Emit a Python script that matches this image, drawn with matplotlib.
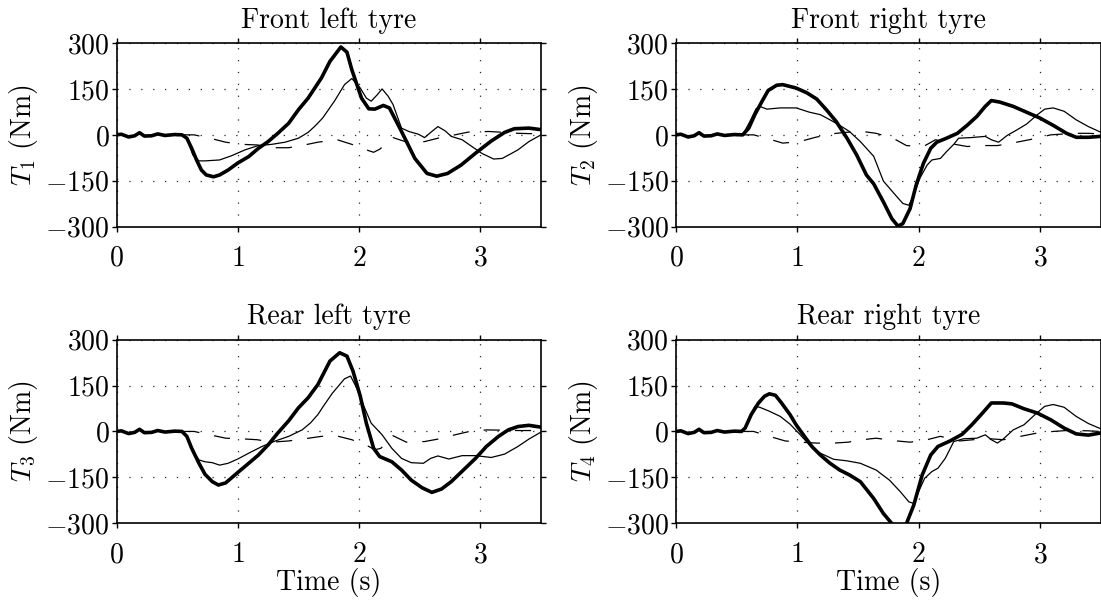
import matplotlib
matplotlib.use("Agg")
import matplotlib.pyplot as plt
import numpy as np

plt.rcParams['font.family'] = 'serif'
plt.rcParams['font.serif'] = ['cmr10']
plt.rcParams['mathtext.fontset'] = 'cm'
plt.rcParams['axes.formatter.use_mathtext'] = True
plt.rcParams['font.size'] = 20

# common start-up ripple (thick and thin lines share it)
wig_t = [0, 0.04, 0.10, 0.15, 0.19, 0.23, 0.29, 0.34, 0.40, 0.48, 0.54]
wig_v = [0, 2, -7, -3, 7, -4, -3, 3, -2, 1, 0]

# ---- front left
t1_thick = [0.58, 0.62, 0.66, 0.70, 0.74, 0.80, 0.85, 0.92, 1.00, 1.09, 1.17, 1.25, 1.33, 1.42, 1.50, 1.58,
            1.69, 1.76, 1.85, 1.90, 1.94, 2.02, 2.08, 2.13, 2.20, 2.25, 2.35, 2.46, 2.56, 2.64, 2.73, 2.84,
            2.96, 3.09, 3.20, 3.28, 3.40, 3.50]
T1_thick = [-11, -44, -82, -115, -131, -137, -131, -115, -92, -71, -44, -22, 5, 38, 82, 120,
            186, 240, 287, 270, 213, 120, 85, 84, 96, 88, 11, -77, -126, -135, -126, -99,
            -60, -20, 8, 20, 22, 17]
t1_thin = [0.58, 0.63, 0.68, 0.73, 0.85, 0.95, 1.06, 1.17, 1.28, 1.39, 1.50, 1.58, 1.64, 1.70, 1.80, 1.88,
           1.94, 2.01, 2.06, 2.10, 2.15, 2.19, 2.24, 2.28, 2.35, 2.41, 2.49, 2.54, 2.60, 2.65, 2.71, 2.76,
           2.85, 2.93, 3.01, 3.11, 3.18, 3.26, 3.31, 3.40, 3.50]
T1_thin = [-11, -66, -85, -85, -82, -68, -49, -35, -31, -24, -11, 8, 30, 55, 112, 164,
           184, 153, 120, 110, 131, 150, 126, 99, 22, 11, 2, -9, 11, 27, 13, -5,
           -16, -38, -60, -79, -77, -60, -49, -22, 0]
t1_dash = [0.55, 0.64, 0.77, 0.90, 1.03, 1.16, 1.29, 1.42, 1.55, 1.66, 1.82, 1.94, 2.06, 2.12, 2.17, 2.28,
           2.38, 2.46, 2.54, 2.65, 2.79, 2.90, 3.07, 3.20, 3.31, 3.50]
T1_dash = [0, 0, -11, -24, -31, -33, -42, -42, -33, -24, -16, -31, -49, -57, -47, -9,
           -22, -27, -22, -11, 0, 9, 11, 8, 5, 3]

# ---- front right
t2_thick = [0.55, 0.60, 0.65, 0.71, 0.76, 0.83, 0.88, 0.99, 1.08, 1.16, 1.24, 1.32, 1.41, 1.49, 1.57, 1.63,
            1.71, 1.78, 1.83, 1.87, 1.93, 1.98, 2.04, 2.10, 2.15, 2.23, 2.32, 2.40, 2.48, 2.55, 2.60, 2.67,
            2.78, 2.89, 3.00, 3.11, 3.22, 3.30, 3.40, 3.50]
T2_thick = [0, 22, 66, 110, 145, 162, 164, 153, 137, 117, 82, 44, -11, -66, -131, -160,
            -219, -274, -298, -290, -241, -164, -93, -44, -24, -11, 5, 31, 60, 93, 112, 107,
            93, 74, 55, 31, 5, -8, -8, -5]
t2_thin = [0.55, 0.61, 0.66, 0.69, 0.75, 0.86, 0.99, 1.10, 1.19, 1.27, 1.35, 1.43, 1.52, 1.63, 1.71, 1.81,
           1.87, 1.92, 1.96, 2.01, 2.07, 2.11, 2.18, 2.23, 2.29, 2.33, 2.43, 2.55, 2.60, 2.66, 2.73, 2.81,
           2.89, 2.98, 3.04, 3.11, 3.20, 3.30, 3.40, 3.50]
T2_thin = [0, 44, 85, 93, 84, 88, 88, 74, 66, 49, 31, 11, -22, -70, -151, -197,
           -224, -230, -197, -142, -99, -82, -77, -55, -31, -11, -9, -5, -16, -24, -2, 16,
           35, 66, 84, 88, 77, 49, 27, 9]
t2_dash = [0.55, 0.64, 0.77, 0.88, 1.02, 1.15, 1.28, 1.39, 1.54, 1.65, 1.79, 1.90, 2.04, 2.14, 2.30, 2.40,
           2.54, 2.65, 2.81, 2.95, 3.09, 3.20, 3.30, 3.40, 3.50]
T2_dash = [0, 0, -14, -27, -22, -8, 3, 8, 11, 5, -11, -35, -38, -16, -31, -38,
           -35, -35, -24, -13, 0, 3, 5, 5, 3]

# ---- rear left
t3_thick = [0.58, 0.62, 0.68, 0.73, 0.79, 0.84, 0.90, 0.95, 1.00, 1.09, 1.17, 1.25, 1.33, 1.42, 1.50, 1.58,
            1.66, 1.76, 1.84, 1.90, 1.95, 2.01, 2.06, 2.12, 2.17, 2.27, 2.35, 2.43, 2.52, 2.60, 2.68, 2.76,
            2.86, 2.96, 3.05, 3.15, 3.23, 3.31, 3.40, 3.50]
T3_thick = [-16, -55, -104, -140, -164, -175, -168, -151, -134, -104, -77, -44, -5, 35, 77, 110,
            153, 230, 257, 246, 197, 115, 27, -55, -82, -99, -126, -159, -184, -199, -188, -164,
            -126, -88, -49, -16, 5, 16, 20, 14]
t3_thin = [0.58, 0.63, 0.68, 0.73, 0.79, 0.85, 0.92, 1.00, 1.09, 1.20, 1.31, 1.42, 1.53, 1.60, 1.66, 1.71,
           1.78, 1.88, 1.93, 1.98, 2.04, 2.10, 2.19, 2.27, 2.35, 2.43, 2.53, 2.59, 2.65, 2.74, 2.85, 2.96,
           3.09, 3.20, 3.31, 3.40, 3.50]
T3_thin = [-16, -66, -93, -99, -102, -110, -104, -90, -71, -49, -31, -16, 5, 28, 55, 85,
           125, 172, 181, 142, 82, 27, -11, -55, -88, -102, -104, -88, -80, -90, -79, -79,
           -85, -74, -49, -25, -2]
t3_dash = [0.55, 0.64, 0.77, 0.90, 1.03, 1.16, 1.28, 1.42, 1.55, 1.69, 1.83, 1.94, 2.08, 2.13, 2.18, 2.28,
           2.39, 2.54, 2.65, 2.79, 2.91, 3.05, 3.20, 3.31, 3.50]
T3_dash = [0, 0, -11, -22, -24, -27, -35, -31, -24, -16, -16, -27, -49, -60, -55, -14,
           -35, -33, -25, -11, 0, 5, 4, 3, 3]

# ---- rear right
t4_thick = [0.57, 0.62, 0.68, 0.73, 0.77, 0.82, 0.87, 0.94, 0.99, 1.05, 1.12, 1.19, 1.27, 1.35, 1.43, 1.52,
            1.63, 1.71, 1.78, 1.84, 1.90, 1.96, 2.03, 2.10, 2.16, 2.26, 2.36, 2.44, 2.52, 2.60, 2.70, 2.77,
            2.87, 2.98, 3.09, 3.20, 3.30, 3.40, 3.50]
T4_thick = [11, 55, 93, 115, 123, 118, 93, 55, 22, -11, -49, -77, -104, -126, -142, -164,
            -219, -268, -301, -335, -301, -241, -142, -77, -49, -31, -9, 22, 57, 93, 93, 90,
            74, 60, 38, 11, -8, -12, -5]
t4_thin = [0.57, 0.61, 0.65, 0.69, 0.77, 0.86, 0.94, 1.02, 1.10, 1.19, 1.30, 1.41, 1.52, 1.65, 1.76, 1.85,
           1.92, 1.96, 2.00, 2.05, 2.11, 2.16, 2.22, 2.29, 2.37, 2.48, 2.55, 2.60, 2.65, 2.70, 2.78, 2.87,
           2.96, 3.04, 3.11, 3.20, 3.30, 3.40, 3.50]
T4_thin = [11, 49, 82, 79, 66, 49, 24, -9, -44, -71, -91, -96, -104, -126, -159, -197,
           -230, -235, -197, -153, -131, -120, -88, -33, -24, -22, -11, -27, -38, -24, 5, 22,
           55, 82, 88, 79, 49, 26, 9]
t4_dash = [0.55, 0.64, 0.77, 0.90, 1.02, 1.16, 1.30, 1.42, 1.54, 1.65, 1.82, 1.93, 2.07, 2.18, 2.34, 2.45,
           2.59, 2.70, 2.84, 2.98, 3.11, 3.22, 3.30, 3.40, 3.50]
T4_dash = [0, 0, -16, -31, -35, -38, -38, -35, -27, -22, -31, -35, -27, -16, -31, -27,
           -24, -27, -16, -5, 0, 3, 3, 2, 0]

titles = ['Front left tyre', 'Front right tyre', 'Rear left tyre', 'Rear right tyre']
ylabels = [r'$T_1$ (Nm)', r'$T_2$ (Nm)', r'$T_3$ (Nm)', r'$T_4$ (Nm)']
series = [
    (t1_thick, T1_thick, t1_thin, T1_thin, t1_dash, T1_dash),
    (t2_thick, T2_thick, t2_thin, T2_thin, t2_dash, T2_dash),
    (t3_thick, T3_thick, t3_thin, T3_thin, t3_dash, T3_dash),
    (t4_thick, T4_thick, t4_thin, T4_thin, t4_dash, T4_dash),
]

W, H = 1101, 600
fig = plt.figure(figsize=(W / 100, H / 100), dpi=100)
lefts = [116.5, 676, 116.5, 676]
bottoms = [226.7, 226.7, 523.3, 523.3]
aw, ah = 424.5, 183.7

for i in range(4):
    ax = fig.add_axes([lefts[i] / W, 1 - bottoms[i] / H, aw / W, ah / H])
    tk, vk, tn, vn, td, vd = series[i]
    ax.plot(td, vd, color='k', lw=0.9, dashes=(13, 12))
    ax.plot(wig_t + tn, wig_v + vn, color='k', lw=0.9)
    ax.plot(wig_t + tk, wig_v + vk, color='k', lw=2.6)

    ax.set_xlim(0, 3.5)
    ax.set_ylim(-300, 300)
    ax.set_xticks([0, 1, 2, 3])
    ax.set_yticks([-300, -150, 0, 150, 300])
    ax.grid(True, color='0.15', lw=0.9, linestyle=(0, (1, 8.5)))
    ax.tick_params(direction='out', top=True, right=True, length=3.5, width=1.0)
    ax.tick_params(axis='x', pad=10)
    ax.tick_params(axis='y', pad=1.5)
    for s in ax.spines.values():
        s.set_linewidth(1.2)

    ax.set_title(titles[i], pad=11, fontsize=20)
    ax.set_ylabel(ylabels[i])
    ax.yaxis.set_label_coords(-0.18, 0.5)
    if i >= 2:
        ax.set_xlabel('Time (s)')
        ax.xaxis.set_label_coords(0.5, -0.245)

fig.savefig('out.png', dpi=100)
